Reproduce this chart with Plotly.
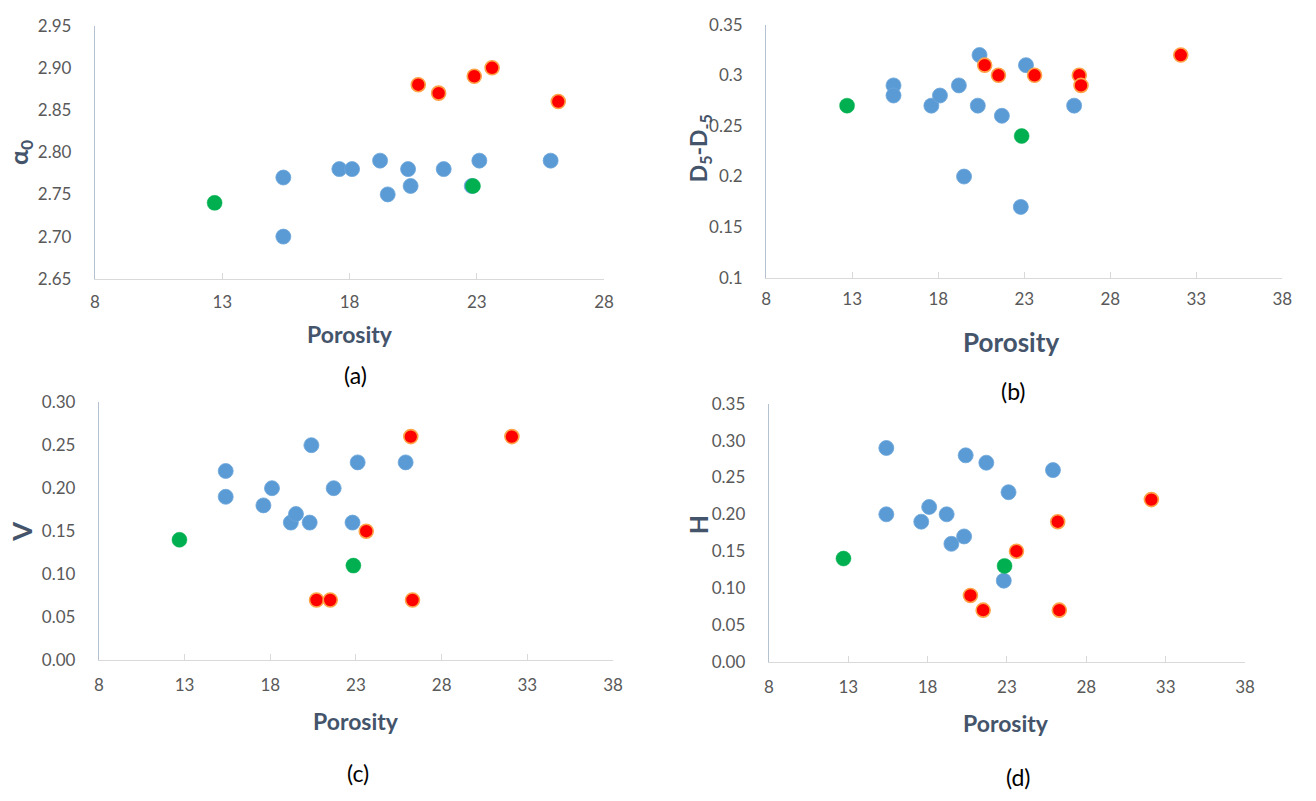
import plotly.graph_objects as go

# Porosity (%) of the three sample groups
blue_porosity = [15.4, 15.4, 17.6, 18.1, 19.2, 19.5, 20.3, 20.4, 21.7, 22.8, 23.1, 25.9]
red_porosity = [20.7, 21.5, 23.6, 26.2, 26.3, 32.1]
red_porosity_a = [20.7, 21.5, 22.9, 23.6, 26.2]
green_porosity = [12.7, 22.85]

# (a) alpha_0
alpha0_blue = [2.77, 2.70, 2.78, 2.78, 2.79, 2.75, 2.78, 2.76, 2.78, 2.76, 2.79, 2.79]
alpha0_red = [2.88, 2.87, 2.89, 2.90, 2.86]
alpha0_green = [2.74, 2.76]

# (b) D5 - D-5
dd_blue = [0.29, 0.28, 0.27, 0.28, 0.29, 0.20, 0.27, 0.32, 0.26, 0.17, 0.31, 0.27]
dd_red = [0.31, 0.30, 0.30, 0.30, 0.29, 0.32]
dd_green = [0.27, 0.24]

# (c) V
v_blue = [0.22, 0.19, 0.18, 0.20, 0.16, 0.17, 0.16, 0.25, 0.20, 0.16, 0.23, 0.23]
v_red = [0.07, 0.07, 0.15, 0.26, 0.07, 0.26]
v_green = [0.14, 0.11]

# (d) H
h_blue = [0.29, 0.20, 0.19, 0.21, 0.20, 0.16, 0.17, 0.28, 0.27, 0.11, 0.23, 0.26]
h_red = [0.09, 0.07, 0.15, 0.19, 0.07, 0.22]
h_green = [0.14, 0.13]

# Tick values
x_ticks_a = [8, 13, 18, 23, 28]
x_ticks = [8, 13, 18, 23, 28, 33, 38]
y_ticks_a = [2.65, 2.70, 2.75, 2.80, 2.85, 2.90, 2.95]
y_ticks_b = [0.10, 0.15, 0.20, 0.25, 0.30, 0.35]
y_ticks_c = [0.00, 0.05, 0.10, 0.15, 0.20, 0.25, 0.30]
y_ticks_d = [0.00, 0.05, 0.10, 0.15, 0.20, 0.25, 0.30, 0.35]

W, H = 1316, 801
FONT = "Lato, 'Open Sans', sans-serif"
TICK_COLOR = "#595959"
TITLE_COLOR = "#44546A"

BLUE = dict(color="#5B9BD5", size=15, line=dict(color="#6CA6DA", width=0.8))
RED = dict(color="#FF0000", size=14, line=dict(color="#FFA347", width=1.6))
GREEN = dict(color="#00B050", size=15, line=dict(color="#00B050", width=0.5))


def px_x(p):
    """Figure x pixel -> paper fraction."""
    return p / W


def px_y(p):
    """Figure y pixel (from top) -> paper fraction."""
    return 1 - p / H


fig = go.Figure()

panels = [
    # (axis suffix, x data, y data, x box px, y box px, x ticks, y ticks, y format, x label gap)
    ("", (blue_porosity, red_porosity_a, green_porosity), (alpha0_blue, alpha0_red, alpha0_green),
     (91, 606), (15, 275), x_ticks_a, y_ticks_a, ".2f", 8),
    ("2", (blue_porosity, red_porosity, green_porosity), (dd_blue, dd_red, dd_green),
     (770, 1292), (14, 274), x_ticks, y_ticks_b, None, 6),
    ("3", (blue_porosity, red_porosity, green_porosity), (v_blue, v_red, v_green),
     (95, 615), (401.7, 666.7), x_ticks, y_ticks_c, ".2f", 9),
    ("4", (blue_porosity, red_porosity, green_porosity), (h_blue, h_red, h_green),
     (772.7, 1254.3), (403.3, 668.3), x_ticks, y_ticks_d, ".2f", 10),
]

for suffix, xs, ys, (x0, x1), (y0, y1), xt, yt, yfmt, xgap in panels:
    for xd, yd, mk in zip(xs, ys, (BLUE, RED, GREEN)):
        fig.add_trace(go.Scatter(
            x=xd, y=yd, mode="markers", marker=mk,
            xaxis="x" + suffix, yaxis="y" + suffix, showlegend=False,
        ))
    xa = dict(
        domain=[px_x(x0), px_x(x1)], anchor="y" + suffix,
        range=[xt[0], xt[-1]], tickvals=xt, ticktext=[str(v) for v in xt],
        showgrid=False, zeroline=False,
        showline=True, linecolor="#D9D9D9", linewidth=1.3,
        ticks="inside", ticklen=6, tickcolor="#D9D9D9", tickwidth=1.3,
        ticklabelstandoff=xgap,
        tickfont=dict(family=FONT, size=17, color=TICK_COLOR),
    )
    if yfmt:
        ylabels = [format(v, yfmt) for v in yt]
    else:
        ylabels = [("%g" % v) for v in yt]
    ya = dict(
        domain=[px_y(y1), px_y(y0)], anchor="x" + suffix,
        range=[yt[0], yt[-1]], tickvals=yt, ticktext=ylabels,
        showgrid=False, zeroline=False,
        showline=True, linecolor="#B4C1D1", linewidth=1.3,
        ticks="", ticklabelstandoff=19,
        tickfont=dict(family=FONT, size=17, color=TICK_COLOR),
    )
    fig.update_layout(**{"xaxis" + suffix: xa, "yaxis" + suffix: ya})

annotations = []


def label(text, x, y, size, color, bold=False, angle=0):
    annotations.append(dict(
        text=("<b>%s</b>" % text) if bold else text,
        x=px_x(x), y=px_y(y), xref="paper", yref="paper",
        xanchor="center", yanchor="middle", showarrow=False, textangle=angle,
        font=dict(family=FONT, size=size, color=color),
    ))


# x-axis titles
label("Porosity", 349, 332, 23, TITLE_COLOR, bold=True)
label("Porosity", 1018, 340, 26, TITLE_COLOR, bold=True)
label("Porosity", 355, 729, 23, TITLE_COLOR, bold=True)
label("Porosity", 1013, 731, 23, TITLE_COLOR, bold=True)

# y-axis titles
label("α<sub>0</sub>", 15, 145, 25, TITLE_COLOR, bold=True, angle=-90)
label("D<sub>5</sub>-D<sub>-5</sub>", 702, 141, 23, TITLE_COLOR, bold=True, angle=-90)
label("V", 17, 535, 27, TITLE_COLOR, bold=True, angle=-90)
label("H", 701, 528, 25, TITLE_COLOR, bold=True, angle=-90)

# panel captions
label("(a)", 355, 374, 23, "#000000")
label("(b)", 1020, 390, 23, "#000000")
label("(c)", 357, 783, 23, "#000000")
label("(d)", 1025, 787, 23, "#000000")

fig.update_layout(
    width=W, height=H,
    margin=dict(l=0, r=0, t=0, b=0),
    paper_bgcolor="white", plot_bgcolor="white",
    annotations=annotations,
    showlegend=False,
)

fig.write_html("out.html")
